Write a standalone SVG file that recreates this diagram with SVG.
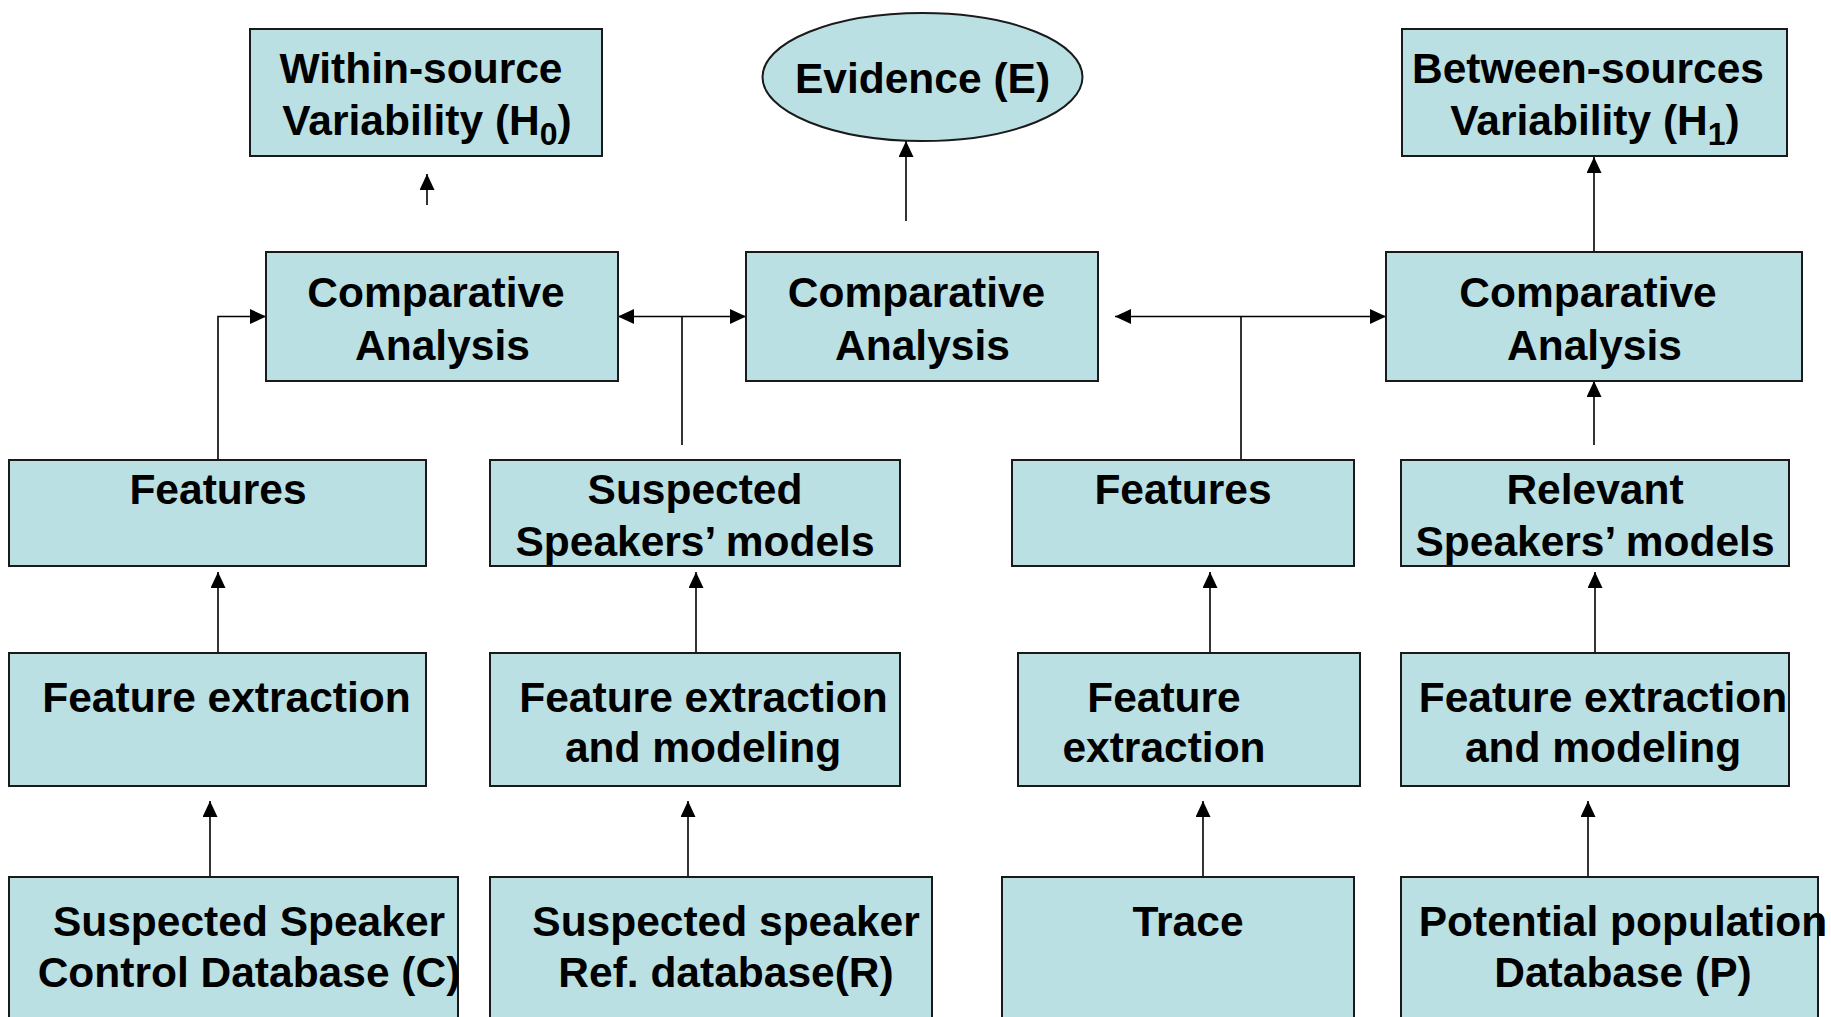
<svg xmlns="http://www.w3.org/2000/svg" width="1831" height="1017" viewBox="0 0 1831 1017">
<defs>
<marker id="ah" viewBox="0 0 10 10" refX="10" refY="5" markerWidth="16" markerHeight="15" markerUnits="userSpaceOnUse" orient="auto-start-reverse" preserveAspectRatio="none">
<path d="M0,0 L10,5 L0,10 z" fill="#000"/>
</marker>
<style>
.b{fill:#BBE0E3;stroke:#1a1a1a;stroke-width:2}
.t{font-family:"Liberation Sans",Arial,sans-serif;font-weight:bold;font-size:42.5px;fill:#000;text-anchor:middle}
.s{font-size:32px}
.c{fill:none;stroke:#000;stroke-width:1.6}
</style>
</defs>
<rect width="1831" height="1017" fill="#fff"/>
<g id="connectors">
<line class="c" x1="427" y1="205" x2="427" y2="174" marker-end="url(#ah)"/>
<line class="c" x1="906" y1="221" x2="906" y2="141" marker-end="url(#ah)"/>
<line class="c" x1="1594" y1="252" x2="1594" y2="157" marker-end="url(#ah)"/>
<path class="c" d="M218,460 V316.5 H266" marker-end="url(#ah)"/>
<line class="c" x1="618" y1="316.5" x2="746" y2="316.5" marker-start="url(#ah)" marker-end="url(#ah)"/>
<line class="c" x1="682" y1="445" x2="682" y2="316.5"/>
<line class="c" x1="1115" y1="316.5" x2="1386" y2="316.5" marker-start="url(#ah)" marker-end="url(#ah)"/>
<line class="c" x1="1241" y1="460" x2="1241" y2="316.5"/>
<line class="c" x1="1594" y1="445" x2="1594" y2="381" marker-end="url(#ah)"/>
<line class="c" x1="218" y1="653" x2="218" y2="572" marker-end="url(#ah)"/>
<line class="c" x1="696" y1="653" x2="696" y2="572" marker-end="url(#ah)"/>
<line class="c" x1="1210" y1="653" x2="1210" y2="572" marker-end="url(#ah)"/>
<line class="c" x1="1595" y1="653" x2="1595" y2="572" marker-end="url(#ah)"/>
<line class="c" x1="210" y1="877" x2="210" y2="801" marker-end="url(#ah)"/>
<line class="c" x1="688" y1="877" x2="688" y2="801" marker-end="url(#ah)"/>
<line class="c" x1="1203" y1="877" x2="1203" y2="801" marker-end="url(#ah)"/>
<line class="c" x1="1588" y1="877" x2="1588" y2="801" marker-end="url(#ah)"/>
</g>
<g id="within">
<rect class="b" x="250" y="29" width="352" height="127"/>
<text class="t" x="421" y="83">Within-source</text>
<text class="t" x="427" y="135">Variability (H<tspan class="s" dy="10">0</tspan><tspan dy="-10">)</tspan></text>
</g>
<g id="evidence">
<ellipse class="b" cx="922.5" cy="77" rx="160" ry="64"/>
<text class="t" x="922.5" y="93">Evidence (E)</text>
</g>
<g id="between">
<rect class="b" x="1402" y="29" width="385" height="127"/>
<text class="t" x="1588" y="83">Between-sources</text>
<text class="t" x="1595" y="135">Variability (H<tspan class="s" dy="10">1</tspan><tspan dy="-10">)</tspan></text>
</g>
<g id="ca-left">
<rect class="b" x="266" y="252" width="352" height="129"/>
<text class="t" x="436" y="307">Comparative</text>
<text class="t" x="442.5" y="360">Analysis</text>
</g>
<g id="ca-mid">
<rect class="b" x="746" y="252" width="352" height="129"/>
<text class="t" x="916.5" y="307">Comparative</text>
<text class="t" x="922.5" y="360">Analysis</text>
</g>
<g id="ca-right">
<rect class="b" x="1386" y="252" width="416" height="129"/>
<text class="t" x="1588" y="307">Comparative</text>
<text class="t" x="1594.5" y="360">Analysis</text>
</g>
<g id="features-left">
<rect class="b" x="9" y="460" width="417" height="106"/>
<text class="t" x="218" y="504">Features</text>
</g>
<g id="suspected-models">
<rect class="b" x="490" y="460" width="410" height="106"/>
<text class="t" x="695" y="504">Suspected</text>
<text class="t" x="695" y="556">Speakers’ models</text>
</g>
<g id="features-mid">
<rect class="b" x="1012" y="460" width="342" height="106"/>
<text class="t" x="1183" y="504">Features</text>
</g>
<g id="relevant-models">
<rect class="b" x="1401" y="460" width="388" height="106"/>
<text class="t" x="1595" y="504">Relevant</text>
<text class="t" x="1595" y="556">Speakers’ models</text>
</g>
<g id="fe-left">
<rect class="b" x="9" y="653" width="417" height="133"/>
<text class="t" x="226.5" y="712">Feature extraction</text>
</g>
<g id="fem-suspected">
<rect class="b" x="490" y="653" width="410" height="133"/>
<text class="t" x="703.5" y="712">Feature extraction</text>
<text class="t" x="703" y="762">and modeling</text>
</g>
<g id="fe-mid">
<rect class="b" x="1018" y="653" width="342" height="133"/>
<text class="t" x="1164" y="712">Feature</text>
<text class="t" x="1164" y="762">extraction</text>
</g>
<g id="fem-relevant">
<rect class="b" x="1401" y="653" width="388" height="133"/>
<text class="t" x="1603" y="712">Feature extraction</text>
<text class="t" x="1603" y="762">and modeling</text>
</g>
<g id="db-control">
<rect class="b" x="9" y="877" width="449" height="160"/>
<text class="t" x="249" y="936">Suspected Speaker</text>
<text class="t" x="249" y="987">Control Database (C)</text>
</g>
<g id="db-ref">
<rect class="b" x="490" y="877" width="442" height="160"/>
<text class="t" x="726" y="936">Suspected speaker</text>
<text class="t" x="726" y="987">Ref. database(R)</text>
</g>
<g id="db-trace">
<rect class="b" x="1002" y="877" width="352" height="160"/>
<text class="t" x="1188" y="936">Trace</text>
</g>
<g id="db-population">
<rect class="b" x="1401" y="877" width="417" height="160"/>
<text class="t" x="1623" y="936">Potential population</text>
<text class="t" x="1623" y="987">Database (P)</text>
</g>
</svg>
